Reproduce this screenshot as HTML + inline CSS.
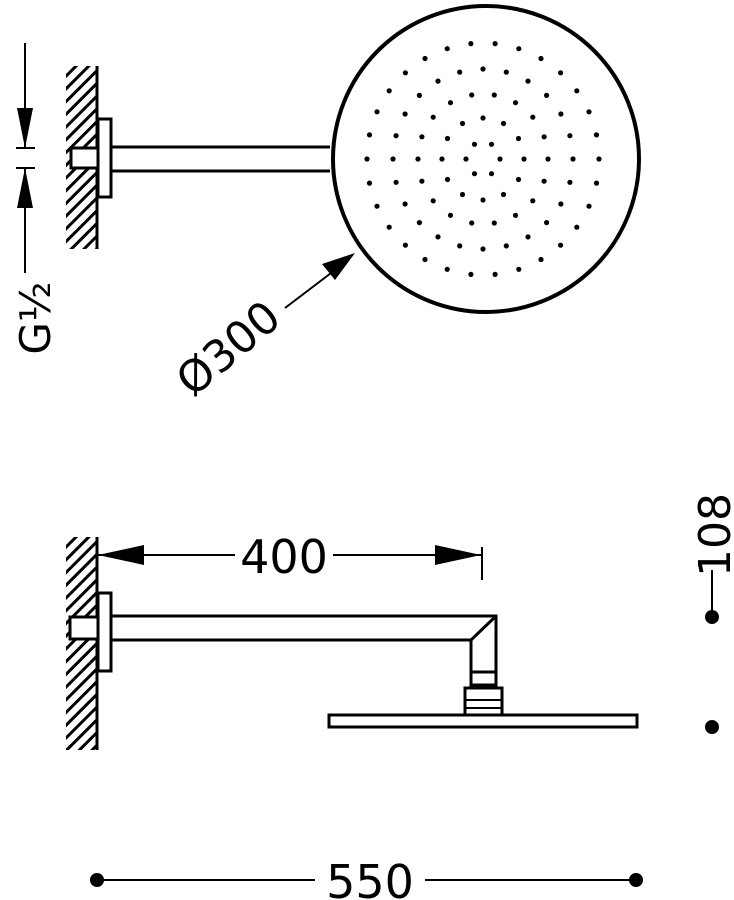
<!DOCTYPE html>
<html><head><meta charset="utf-8"><style>
html,body{margin:0;padding:0;background:#fff;}
svg{display:block;}
text{font-family:"DejaVu Sans","Liberation Sans",sans-serif;fill:#000;}
</style></head><body>
<svg width="734" height="900" viewBox="0 0 734 900" xmlns="http://www.w3.org/2000/svg">
<defs>
<pattern id="h" width="9" height="9" patternUnits="userSpaceOnUse" patternTransform="rotate(45)">
<rect width="9" height="9" fill="#fff"/><rect x="0" y="0" width="3" height="9" fill="#000"/>
</pattern>
</defs>
<g stroke="#000" fill="none" stroke-width="3">
<rect x="66" y="66" width="30" height="183" fill="url(#h)" stroke="none"/>
<line x1="97" y1="66" x2="97" y2="249"/>
<rect x="71" y="148" width="27" height="20" fill="#fff"/>
<rect x="98" y="119" width="13" height="78" fill="#fff"/>
<line x1="111" y1="147" x2="330" y2="147"/>
<line x1="111" y1="171" x2="330" y2="171"/>
<circle cx="486" cy="159" r="153" stroke-width="4" fill="#fff"/>
<line x1="25" y1="43" x2="25" y2="148" stroke-width="2"/>
<line x1="25" y1="168" x2="25" y2="273" stroke-width="2"/>
<line x1="16" y1="148" x2="35" y2="148" stroke-width="2"/>
<line x1="16" y1="168" x2="35" y2="168" stroke-width="2"/>
<line x1="285" y1="308" x2="335" y2="270" stroke-width="2"/>
<rect x="66" y="537" width="30" height="213" fill="url(#h)" stroke="none"/>
<line x1="97" y1="537" x2="97" y2="750"/>
<rect x="70" y="617" width="28" height="22" fill="#fff"/>
<rect x="98" y="593" width="13" height="78" fill="#fff"/>
<path d="M111 616 H496 V672 M111 640 H471 V672 M471 640 L495 617"/>
<rect x="471" y="672" width="25" height="13" fill="#fff"/>
<rect x="465" y="688" width="37" height="27" fill="#fff"/>
<line x1="466" y1="700" x2="501" y2="700" stroke-width="2"/>
<line x1="466" y1="708" x2="501" y2="708" stroke-width="2"/>
<rect x="329" y="715" width="308" height="12" fill="#fff"/>
<line x1="97" y1="555" x2="235" y2="555" stroke-width="2"/>
<line x1="333" y1="555" x2="482" y2="555" stroke-width="2"/>
<line x1="482" y1="547" x2="482" y2="580" stroke-width="2"/>
<line x1="712" y1="570" x2="712" y2="617" stroke-width="2"/>
<line x1="97" y1="880" x2="315" y2="880" stroke-width="2"/>
<line x1="425" y1="880" x2="636" y2="880" stroke-width="2"/>
</g>
<g fill="#000">
<polygon points="25,148 17,108 33,108"/>
<polygon points="25,168 17,208 33,208"/>
<polygon points="355,253 322,264 335,280"/>
<polygon points="98,555 144,545 144,565"/>
<polygon points="481,555 435,545 435,565"/>
<circle cx="712" cy="617" r="7"/>
<circle cx="712" cy="727" r="7"/>
<circle cx="97" cy="880" r="7"/>
<circle cx="636" cy="880" r="7"/>
</g>
<g fill="#000">
<circle cx="500" cy="159" r="2.6"/><circle cx="491.5" cy="173.7" r="2.6"/><circle cx="474.5" cy="173.7" r="2.6"/><circle cx="466" cy="159" r="2.6"/><circle cx="474.5" cy="144.3" r="2.6"/><circle cx="491.5" cy="144.3" r="2.6"/>
<circle cx="524" cy="159" r="2.6"/><circle cx="518.5" cy="179.5" r="2.6"/><circle cx="503.5" cy="194.5" r="2.6"/><circle cx="483" cy="200" r="2.6"/><circle cx="462.5" cy="194.5" r="2.6"/><circle cx="447.5" cy="179.5" r="2.6"/><circle cx="442" cy="159" r="2.6"/><circle cx="447.5" cy="138.5" r="2.6"/><circle cx="462.5" cy="123.5" r="2.6"/><circle cx="483" cy="118" r="2.6"/><circle cx="503.5" cy="123.5" r="2.6"/><circle cx="518.5" cy="138.5" r="2.6"/>
<circle cx="548" cy="159" r="2.6"/><circle cx="544.1" cy="181.2" r="2.6"/><circle cx="532.8" cy="200.8" r="2.6"/><circle cx="515.5" cy="215.3" r="2.6"/><circle cx="494.3" cy="223" r="2.6"/><circle cx="471.7" cy="223" r="2.6"/><circle cx="450.5" cy="215.3" r="2.6"/><circle cx="433.2" cy="200.8" r="2.6"/><circle cx="421.9" cy="181.2" r="2.6"/><circle cx="418" cy="159" r="2.6"/><circle cx="421.9" cy="136.8" r="2.6"/><circle cx="433.2" cy="117.2" r="2.6"/><circle cx="450.5" cy="102.7" r="2.6"/><circle cx="471.7" cy="95" r="2.6"/><circle cx="494.3" cy="95" r="2.6"/><circle cx="515.5" cy="102.7" r="2.6"/><circle cx="532.8" cy="117.2" r="2.6"/><circle cx="544.1" cy="136.8" r="2.6"/>
<circle cx="573" cy="159" r="2.6"/><circle cx="569.9" cy="182.3" r="2.6"/><circle cx="560.9" cy="204" r="2.6"/><circle cx="546.6" cy="222.6" r="2.6"/><circle cx="528" cy="236.9" r="2.6"/><circle cx="506.3" cy="245.9" r="2.6"/><circle cx="483" cy="249" r="2.6"/><circle cx="459.7" cy="245.9" r="2.6"/><circle cx="438" cy="236.9" r="2.6"/><circle cx="419.4" cy="222.6" r="2.6"/><circle cx="405.1" cy="204" r="2.6"/><circle cx="396.1" cy="182.3" r="2.6"/><circle cx="393" cy="159" r="2.6"/><circle cx="396.1" cy="135.7" r="2.6"/><circle cx="405.1" cy="114" r="2.6"/><circle cx="419.4" cy="95.4" r="2.6"/><circle cx="438" cy="81.1" r="2.6"/><circle cx="459.7" cy="72.1" r="2.6"/><circle cx="483" cy="69" r="2.6"/><circle cx="506.3" cy="72.1" r="2.6"/><circle cx="528" cy="81.1" r="2.6"/><circle cx="546.6" cy="95.4" r="2.6"/><circle cx="560.9" cy="114" r="2.6"/><circle cx="569.9" cy="135.7" r="2.6"/>
<circle cx="599" cy="159" r="2.6"/><circle cx="596.5" cy="183.1" r="2.6"/><circle cx="589" cy="206.2" r="2.6"/><circle cx="576.8" cy="227.2" r="2.6"/><circle cx="560.6" cy="245.2" r="2.6"/><circle cx="541" cy="259.5" r="2.6"/><circle cx="518.8" cy="269.3" r="2.6"/><circle cx="495.1" cy="274.4" r="2.6"/><circle cx="470.9" cy="274.4" r="2.6"/><circle cx="447.2" cy="269.3" r="2.6"/><circle cx="425" cy="259.5" r="2.6"/><circle cx="405.4" cy="245.2" r="2.6"/><circle cx="389.2" cy="227.2" r="2.6"/><circle cx="377" cy="206.2" r="2.6"/><circle cx="369.5" cy="183.1" r="2.6"/><circle cx="367" cy="159" r="2.6"/><circle cx="369.5" cy="134.9" r="2.6"/><circle cx="377" cy="111.8" r="2.6"/><circle cx="389.2" cy="90.8" r="2.6"/><circle cx="405.4" cy="72.8" r="2.6"/><circle cx="425" cy="58.5" r="2.6"/><circle cx="447.2" cy="48.7" r="2.6"/><circle cx="470.9" cy="43.6" r="2.6"/><circle cx="495.1" cy="43.6" r="2.6"/><circle cx="518.8" cy="48.7" r="2.6"/><circle cx="541" cy="58.5" r="2.6"/><circle cx="560.6" cy="72.8" r="2.6"/><circle cx="576.8" cy="90.8" r="2.6"/><circle cx="589" cy="111.8" r="2.6"/><circle cx="596.5" cy="134.9" r="2.6"/>
</g>
<text x="0" y="0" font-size="42" transform="translate(50,318) rotate(-90)" text-anchor="middle">G½</text>
<text x="0" y="0" font-size="44" transform="translate(238,360) rotate(-40)" text-anchor="middle">Ø300</text>
<text x="284" y="573" font-size="46" text-anchor="middle">400</text>
<text x="0" y="0" font-size="44" transform="translate(730,535) rotate(-90)" text-anchor="middle">108</text>
<text x="370" y="898" font-size="46" text-anchor="middle">550</text>
</svg>
</body></html>
